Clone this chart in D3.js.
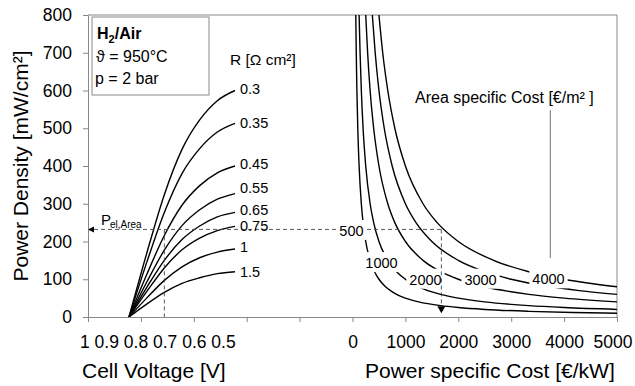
<!DOCTYPE html>
<html>
<head>
<meta charset="utf-8">
<script src="https://cdn.jsdelivr.net/npm/d3@7"></script>
<style>
  body { margin: 0; background: #fff; }
  text { font-family: "Liberation Sans", Arial, sans-serif; fill: #000; }
  .axis path, .axis line { stroke: #888; }
  .axis text { font-size: 17.5px; }
  .curve { fill: none; stroke: #000; stroke-width: 1.4; }
  .guide { fill: none; stroke: #444; stroke-width: 0.9; stroke-dasharray: 4,3; }
</style>
</head>
<body>
<svg id="chart" width="635" height="386"></svg>
<script>
// left part: power density over cell voltage for several area specific resistances
const voltage = [0.8, 0.75, 0.7, 0.65, 0.6, 0.55, 0.5];
const resistances = ["0.3", "0.35", "0.45", "0.55", "0.65", "0.75", "1", "1.5"];
const powerByR = [
    [0, 168, 324, 444, 522, 573, 600],
    [0, 144, 277, 380, 446, 490, 513],
    [0, 112, 216, 296, 348, 382, 400],
    [0, 92, 177, 242, 284, 312, 327],
    [0, 78, 150, 205, 241, 265, 277],
    [0, 67, 130, 178, 209, 229, 240],
    [0, 50, 97, 133, 157, 172, 180],
    [0, 34, 65, 89, 104, 115, 120]
];
// where the R labels sit (power density of label centre)
const rLabelPower = [603, 514, 405, 342, 283, 241, 185, 119];
const voltTickLabels = ["1", "0.9", "0.8", "0.7", "0.6", "0.5"];

// right part: power specific cost [€/kW] vs power density, one curve per area cost [€/m2]
const areaCosts = ["500", "1000", "2000", "3000", "4000"];
const cost500 = [[62,800],[71,700],[83,600],[100,500],[125,400],[167,300],[200,250],[250,200],[333,150],[417,120],[500,100],[625,80],[833,60],[1000,50],[1250,40],[1667,30],[2000,25],[2500,20],[3333,15],[4167,12],[5000,10]];
const cost1000 = [[125,800],[143,700],[167,600],[200,500],[250,400],[333,300],[400,250],[500,200],[667,150],[833,120],[1000,100],[1250,80],[1667,60],[2000,50],[2500,40],[3333,30],[4000,25],[5000,20]];
const cost2000 = [[250,800],[286,700],[333,600],[400,500],[500,400],[667,300],[800,250],[1000,200],[1333,150],[1667,120],[2000,100],[2500,80],[3333,60],[4000,50],[5000,40]];
const cost3000 = [[375,800],[429,700],[500,600],[600,500],[750,400],[1000,300],[1200,250],[1500,200],[2000,150],[2500,120],[3000,100],[3750,80],[4286,70],[5000,60]];
const cost4000 = [[500,800],[571,700],[667,600],[800,500],[1000,400],[1333,300],[1600,250],[2000,200],[2667,150],[3333,120],[4000,100],[4444,90],[5000,80]];
const costCurves = [cost500, cost1000, cost2000, cost3000, cost4000];
const costLabelPos = [[-20, 228], [548, 143], [1380, 99], [2420, 99], [3705, 100]];

const powerTicks = [0, 100, 200, 300, 400, 500, 600, 700, 800];
const costTicks = [-5000, -4000, -3000, -2000, -1000, 0, 1000, 2000, 3000, 4000, 5000];

// operating point guide
const guidePower = 232, guideVolt = 0.7, guideCost = 1680;

const svg = d3.select('#chart');

const y = d3.scaleLinear().domain([0, 800]).range([317, 15]);
const cost = d3.scaleLinear().domain([-5000, 5000]).range([88, 617]);
const volt = d3.scaleLinear().domain([0.8, 0.5]).range([129, 235]);

// frame
svg.append('path')
    .attr('d', `M${cost(-5000)},${y(800)}H${cost(5000)}V${y(0)}`)
    .attr('fill', 'none').attr('stroke', '#888');

svg.append('g').attr('class', 'axis')
    .attr('transform', `translate(${cost(-5000)},0)`)
    .call(d3.axisLeft(y).tickValues(powerTicks).tickSize(5).tickSizeOuter(0).tickPadding(11));

const xAxis = svg.append('g').attr('class', 'axis')
    .attr('transform', `translate(0,${y(0)})`)
    .call(d3.axisBottom(cost).tickValues(costTicks).tickSize(5).tickSizeOuter(0).tickPadding(14)
        .tickFormat(d => d >= 0 ? d : ''));

// last label is pulled in so it stays inside the page
xAxis.selectAll('.tick text').filter(d => d === 5000).attr('dx', -4.5);

// voltage labels are typeset as one line under the left part
svg.append('text')
    .attr('x', 80).attr('y', 348)
    .style('font-size', '17.5px')
    .text(voltTickLabels.join(' '));

// axis titles
svg.append('text')
    .attr('transform', `translate(28,${(y(0) + y(800)) / 2}) rotate(-90)`)
    .attr('text-anchor', 'middle')
    .style('font-size', '21px')
    .text('Power Density [mW/cm²]');

svg.append('text').attr('x', 82).attr('y', 378).style('font-size', '21px')
    .text('Cell Voltage [V]');
svg.append('text').attr('x', 365).attr('y', 378).style('font-size', '21px')
    .text('Power specific Cost [€/kW]');

// clip for curves
svg.append('clipPath').attr('id', 'plotclip')
    .append('rect')
    .attr('x', cost(-5000)).attr('y', y(800))
    .attr('width', cost(5000) - cost(-5000)).attr('height', y(0) - y(800));

const plot = svg.append('g').attr('clip-path', 'url(#plotclip)');

const voltLine = d3.line()
    .x((d, i) => volt(voltage[i]))
    .y(d => y(d))
    .curve(d3.curveMonotoneX);

plot.selectAll('.rcurve')
    .data(powerByR)
    .enter()
    .append('path')
    .attr('class', 'curve rcurve')
    .attr('d', voltLine);

const costLine = d3.line()
    .x(d => cost(d[0]))
    .y(d => y(d[1]))
    .curve(d3.curveMonotoneX);

plot.selectAll('.ccurve')
    .data(costCurves)
    .enter()
    .append('path')
    .attr('class', 'curve ccurve')
    .attr('d', costLine);

// dashed guides
svg.append('path').attr('class', 'guide')
    .attr('d', `M${cost(-5000) + 6},${y(guidePower)}H${cost(guideCost)}`);
svg.append('path').attr('class', 'guide')
    .attr('d', `M${volt(guideVolt)},${y(guidePower)}V${y(0)}`);
svg.append('path')
    .attr('d', `M${cost(-5000)},${y(guidePower)}l6,-3v6z`)
    .attr('fill', '#000');

svg.append('text').attr('x', 101).attr('y', 225).style('font-size', '15px').text('P');
svg.append('text').attr('x', 110).attr('y', 228).style('font-size', '10px').attr('fill', '#222').text('el,Area');

// R labels at the curve ends
svg.selectAll('.rlabel')
    .data(resistances)
    .enter()
    .append('text')
    .attr('class', 'rlabel')
    .attr('x', volt(0.5) + 5)
    .attr('y', (d, i) => y(rLabelPower[i]))
    .attr('dy', '0.35em')
    .style('font-size', '14.5px')
    .text(d => d);

svg.append('text').attr('x', 230).attr('y', 65).style('font-size', '15.5px')
    .text('R [Ω cm²]');

// cost labels sit on white boxes that break the curves
areaCosts.forEach((c, i) => {
    const g = svg.append('g');
    const box = g.append('rect').attr('fill', '#fff');
    const t = g.append('text')
        .attr('x', cost(costLabelPos[i][0]))
        .attr('y', y(costLabelPos[i][1]))
        .attr('dy', '0.35em')
        .attr('text-anchor', 'middle')
        .style('font-size', '14.5px')
        .text(c);
    const bb = t.node().getBBox();
    box.attr('x', bb.x - 3).attr('y', bb.y - 3)
        .attr('width', bb.width + 6).attr('height', bb.height + 4);
});

svg.append('path').attr('class', 'guide')
    .attr('d', `M${cost(guideCost)},${y(guidePower)}V${y(10) - 7}`);
svg.append('path')
    .attr('d', `M${cost(guideCost)},${y(10)}l-4,-7h8z`)
    .attr('fill', '#000');

// area specific cost annotation
svg.append('text').attr('x', 415).attr('y', 103).style('font-size', '16px')
    .text('Area specific Cost [€/m² ]');
svg.append('line')
    .attr('x1', cost(3740)).attr('x2', cost(3740))
    .attr('y1', y(548)).attr('y2', y(156))
    .attr('stroke', '#888').attr('stroke-width', 1.2);

// parameter box
svg.append('rect')
    .attr('x', 92).attr('y', 17).attr('width', 117).attr('height', 78)
    .attr('fill', '#fff').attr('stroke', '#888');
const h2 = svg.append('text').attr('x', 97).attr('y', 39)
    .style('font-size', '16px').style('font-weight', 'bold');
h2.append('tspan').text('H');
h2.append('tspan').attr('dy', 4).style('font-size', '11px').text('2');
h2.append('tspan').attr('dy', -4).text('/Air');
svg.append('text').attr('x', 96).attr('y', 62).style('font-size', '16px').text('ϑ = 950°C');
svg.append('text').attr('x', 95).attr('y', 84).style('font-size', '16px').text('p = 2 bar');
</script>
</body>
</html>
